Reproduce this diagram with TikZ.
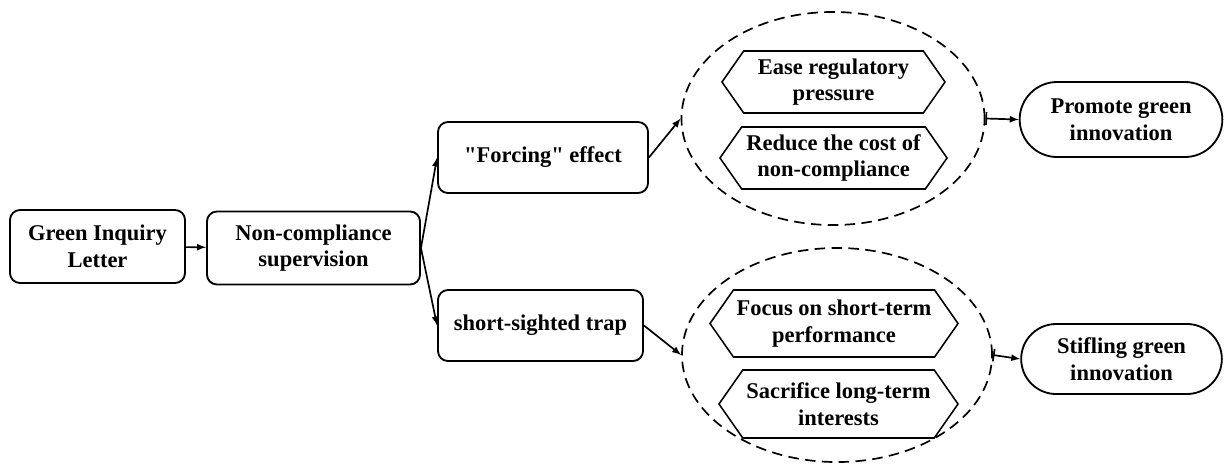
\documentclass[tikz,border=0pt]{standalone}
\usepackage{fontspec}
\setmainfont{Liberation Serif}
\usetikzlibrary{arrows}
\usetikzlibrary{arrows.meta}
\usetikzlibrary{shapes.geometric, shapes.symbols, shapes.misc}

\tikzset{
  stagebox/.style={draw, line width=1.3pt, rounded corners=0.25cm, align=center,
    font=\bfseries\fontsize{16}{19}\selectfont, inner sep=2pt},
  hexbox/.style={draw, line width=1.1pt, signal, signal to=west and east,
    signal pointer angle=110, align=center, inner sep=1pt,
    font=\bfseries\fontsize{16}{19}\selectfont},
  endbox/.style={draw, line width=1.3pt, rounded rectangle, align=center,
    font=\bfseries\fontsize{16}{19}\selectfont},
  groupring/.style={draw, ellipse, line width=1.2pt, dash pattern=on 7.5pt off 4.5pt, inner sep=0pt},
  link/.style={-latex, line width=1.2pt}
}

\begin{document}
\begin{tikzpicture}[x=0.025cm, y=-0.025cm]
\useasboundingbox (0,0) rectangle (1229,469);

% left chain
\node[stagebox, minimum width=4.375cm, minimum height=1.825cm] (letter) at (97.5,246.5) {Green Inquiry\\Letter};
\node[stagebox, minimum width=5.325cm, minimum height=1.825cm] (superv) at (313.5,248) {Non-compliance\\supervision};
\node[stagebox, minimum width=5.25cm, minimum height=1.775cm] (forcing) at (543,157.5) {\textquotedbl Forcing\textquotedbl{} effect};
\node[stagebox, minimum width=5.125cm, minimum height=1.775cm] (trap) at (540.5,325.5) {short-sighted trap};

% dashed groups
\node[groupring, minimum width=7.575cm, minimum height=5.325cm] (ringup) at (833,118.5) {};
\node[groupring, minimum width=7.75cm, minimum height=5.35cm] (ringdown) at (837,355) {};

\node[hexbox, minimum width=5.575cm, minimum height=1.55cm] (ease) at (833.5,82) {Ease regulatory\\pressure};
\node[hexbox, minimum width=5.675cm, minimum height=1.55cm] (cost) at (833.5,158) {Reduce the cost of\\non-compliance};
\node[hexbox, minimum width=6.2cm, minimum height=1.675cm] (focus) at (834,323.5) {Focus on short-term\\performance};
\node[hexbox, minimum width=5.975cm, minimum height=1.7cm] (sacri) at (838.5,404) {Sacrifice long-term\\interests};

% outcomes
\node[endbox, minimum width=5.3cm, minimum height=1.875cm] (promote) at (1121,119.5) {Promote green\\innovation};
\node[endbox, minimum width=5.25cm, minimum height=1.75cm] (stifle) at (1121.5,359) {Stifling green\\innovation};

\draw[link] (letter) -- (superv);
\draw[link] (superv.east) -- (forcing.west);
\draw[link] (superv.east) -- (trap.west);
\draw[link] (forcing.east) -- (ringup.west);
\draw[link] (trap.east) -- (ringdown.west);
\draw[{Bar[width=9pt]}-latex, line width=1.2pt] (ringup.east) -- (promote.west);
\draw[{Bar[width=9pt]}-latex, line width=1.2pt] (ringdown.east) -- (stifle.west);

\end{tikzpicture}
\end{document}
